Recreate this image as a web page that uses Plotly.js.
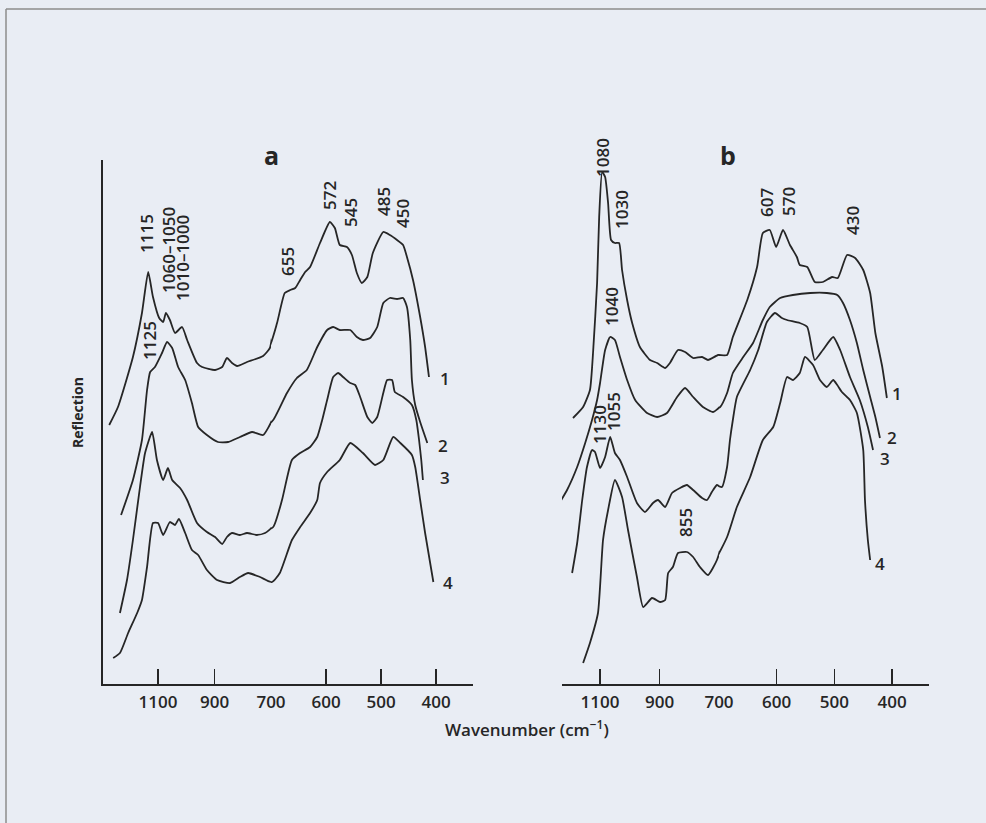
<!DOCTYPE html>
<html>
<head>
<meta charset="utf-8">
<script src="https://cdn.plot.ly/plotly-3.0.1.min.js"></script>
<style>html,body{margin:0;padding:0;background:#e9edf4;}#chart{width:986px;height:823px;}</style>
</head>
<body>
<div id="chart"></div>
<script>
// ---- Panel a: wavenumber (cm-1) and reflection (arbitrary units) ----
const wnA1 = [1273,1242,1189,1157,1135,1118,1096,1082,1072,1058,1040,1015,997,962,944,898,873,856,838,820,785,728,704,689,675,665,656,647,638,629,611,593,584,575,562,553,544,535,525,515,496,484,471,460,453,442,429,420,413];
const refA1 = [259,277,327,371,412,387,366,362,371,364,351,357,344,321,317,314,317,326,321,318,322,328,336,361,391,394,396,404,412,417,441,462,456,439,437,429,411,401,407,431,452,449,444,439,427,404,367,337,307];
const wnA2 = [1231,1189,1157,1139,1128,1111,1086,1068,1050,1029,1004,980,958,927,888,852,810,767,728,696,671,653,635,616,598,587,575,556,544,533,520,507,496,484,471,460,453,447,444,438,429,416];
const refA2 = [169,204,244,294,312,317,331,342,336,317,304,281,257,249,242,242,247,252,249,264,291,306,314,337,354,357,354,354,347,344,346,357,381,386,385,386,377,344,304,279,262,241];
const wnA3 = [1235,1210,1189,1164,1146,1121,1104,1082,1065,1050,1022,997,962,927,898,873,856,838,810,785,750,721,696,680,662,647,629,616,607,598,587,578,569,556,547,538,525,516,507,496,489,480,475,460,444,436,431,427,424];
const refA3 = [71,104,144,197,231,252,224,204,216,204,196,184,161,152,147,140,147,151,149,151,149,151,157,184,224,231,237,247,264,284,307,311,307,301,299,287,267,261,267,291,304,304,292,287,279,264,244,224,204];
const wnA4 = [1259,1235,1206,1174,1157,1139,1118,1100,1082,1058,1040,1026,1004,980,958,927,891,845,810,781,739,698,684,662,647,629,616,611,598,575,556,533,511,496,478,465,444,438,429,420,405];
const refA4 = [26,31,51,71,84,117,161,161,149,162,159,165,151,134,129,114,104,101,107,111,107,102,111,144,157,171,184,201,212,224,241,231,219,224,247,241,229,217,184,151,102];

// ---- Panel b ----
const wnB1 = [1191,1157,1134,1123,1110,1103,1093,1083,1073,1063,1050,1036,1026,1009,992,966,932,908,881,865,838,814,787,757,737,703,686,676,651,634,624,612,601,589,577,565,560,547,534,520,504,494,478,464,450,438,429,417,409];
const refB1 = [266,277,294,334,401,467,512,507,481,444,441,441,414,384,361,337,324,321,316,321,334,332,326,327,324,329,329,347,384,417,451,454,437,454,439,427,419,417,402,402,407,406,429,426,414,391,351,317,286];
const wnB2 = [1251,1211,1177,1150,1127,1110,1100,1083,1066,1050,1033,1009,982,942,908,875,841,814,787,754,720,698,686,676,658,641,624,612,594,572,542,513,495,485,473,461,450,438,429,421];
const refB2 = [174,194,217,241,264,284,301,334,347,344,327,304,284,271,267,271,287,296,287,277,272,277,291,311,327,341,364,377,386,389,391,391,389,381,364,341,314,287,267,246];
const wnB3 = [1194,1177,1160,1144,1127,1117,1100,1083,1066,1050,1033,1009,976,949,922,905,881,858,831,808,787,757,740,724,707,695,686,681,676,669,646,632,617,603,591,582,560,547,534,520,502,490,473,456,442,433];
const refB3 = [111,141,184,217,234,232,216,227,247,231,224,207,181,172,181,184,177,191,196,199,194,186,184,192,199,197,217,244,264,287,314,334,362,371,366,364,361,357,324,334,347,334,307,284,257,234];
const wnB4 = [1157,1134,1107,1090,1073,1050,1026,1006,976,955,925,898,881,871,855,838,808,787,764,737,707,686,669,646,624,606,594,582,572,560,551,537,525,513,502,495,487,473,461,450,447,442,438];
const refB4 = [21,41,71,144,174,204,187,154,107,77,86,82,84,111,117,131,132,127,117,109,124,147,177,207,244,257,281,307,304,311,327,319,304,297,304,299,292,284,271,234,184,144,124];

// ---- tick labels (split wavenumber scale) ----
const ticksHigh = [1100, 900];
const ticksLow = [700, 600, 500, 400];
const curveNames = ['1','2','3','4'];
const peaksA = ['1115','1060–1050','1010–1000','1125','655','572','545','485','450'];
const peaksB = ['1080','1030','1040','1130','1055','607','570','430','855'];

const W = 986, H = 823;
const px = v => v / W, py = v => 1 - v / H;
const INK = '#262626';
const TXT = '#262626';
const FONT = 'Open Sans, sans-serif';

const traces = [];
function addSpectrum(wn, ref, axes) {
  axes.forEach(ax => traces.push({
    x: wn, y: ref, xaxis: ax, yaxis: 'y', mode: 'lines',
    line: {color: INK, width: 1.8, shape: 'spline', smoothing: 0.5},
    hoverinfo: 'skip', showlegend: false
  }));
}
[[wnA1,refA1],[wnA2,refA2],[wnA3,refA3],[wnA4,refA4]].forEach(d => addSpectrum(d[0], d[1], ['x','x2']));
[[wnB1,refB1],[wnB2,refB2],[wnB3,refB3],[wnB4,refB4]].forEach(d => addSpectrum(d[0], d[1], ['x3','x4']));

function xa(dom, range, vals) {
  return {
    domain: [px(dom[0]), px(dom[1])], range: range, anchor: 'y',
    tickmode: 'array', tickvals: vals, ticktext: vals.map(String),
    ticks: 'inside', ticklen: 15, tickwidth: 1.5, tickcolor: INK,
    ticklabelstandoff: 2,
    showline: true, linecolor: INK, linewidth: 2,
    showgrid: false, zeroline: false, fixedrange: true,
    tickfont: {family: FONT, size: 17, color: TXT, weight: 600}
  };
}

const ann = [];
function label(text, x, y, opts) {
  ann.push(Object.assign({
    text: text, x: px(x), y: py(y), xref: 'paper', yref: 'paper',
    showarrow: false, xanchor: 'center', yanchor: 'middle',
    font: {family: FONT, size: 17, color: TXT, weight: 600}
  }, opts || {}));
}
// peak labels, panel a
const posA = [[147,234],[168,250],[182,258],[149,341],[287,262],[330,196],[350,213],[383,202],[402,214]];
peaksA.forEach((t,i) => label(t, posA[i][0], posA[i][1], {textangle: -90}));
// peak labels, panel b
const posB = [[602,158],[621,210],[611,307],[599,425],[613,412],[767,203],[788,202],[853,221],[685,523]];
peaksB.forEach((t,i) => label(t, posB[i][0], posB[i][1], {textangle: -90}));
// curve numbers
const numA = [[445,378],[443,445],[445,477],[448,582]];
const numB = [[897,394],[892,437],[885,458],[880,563]];
const numFont = {family: FONT, size: 17, color: TXT, weight: 600};
curveNames.forEach((t,i) => { label(t, numA[i][0], numA[i][1], {font: numFont});
                               label(t, numB[i][0], numB[i][1], {font: numFont}); });
// panel letters
label('a', 271, 155, {font:{family:FONT,size:25,color:TXT,weight:700}});
label('b', 728, 155, {font:{family:FONT,size:25,color:TXT,weight:700}});
// axis titles
label('Wavenumber (cm<sup>−1</sup>)', 527, 728, {font:{family:FONT,size:17,color:TXT,weight:600}});
label('Reflection', 77, 413, {textangle: -90, font:{family:FONT,size:14,color:TXT,weight:700}});

const layout = {
  width: W, height: H,
  margin: {l: 0, r: 0, t: 0, b: 0},
  paper_bgcolor: '#e9edf4', plot_bgcolor: 'rgba(0,0,0,0)',
  showlegend: false,
  xaxis:  xa([103, 271], [1295, 700], ticksHigh),
  xaxis2: xa([271, 473], [700, 333], ticksLow),
  xaxis3: xa([562, 719], [1228, 700], ticksHigh),
  xaxis4: xa([719, 929], [700, 336], ticksLow),
  yaxis: {
    domain: [py(684), py(160)], range: [0, 524], anchor: 'x',
    showline: true, linecolor: INK, linewidth: 2,
    showticklabels: false, ticks: '', showgrid: false, zeroline: false, fixedrange: true
  },
  annotations: ann,
  shapes: [
    {type: 'line', xref: 'paper', yref: 'paper', x0: px(6), x1: px(6), y0: 0, y1: py(9), line: {color: '#8c8c8c', width: 1.5}},
    {type: 'line', xref: 'paper', yref: 'paper', x0: px(6), x1: 1, y0: py(9), y1: py(9), line: {color: '#8c8c8c', width: 1.5}}
  ]
};

Plotly.newPlot('chart', traces, layout, {staticPlot: true, displayModeBar: false});
</script>
</body>
</html>
